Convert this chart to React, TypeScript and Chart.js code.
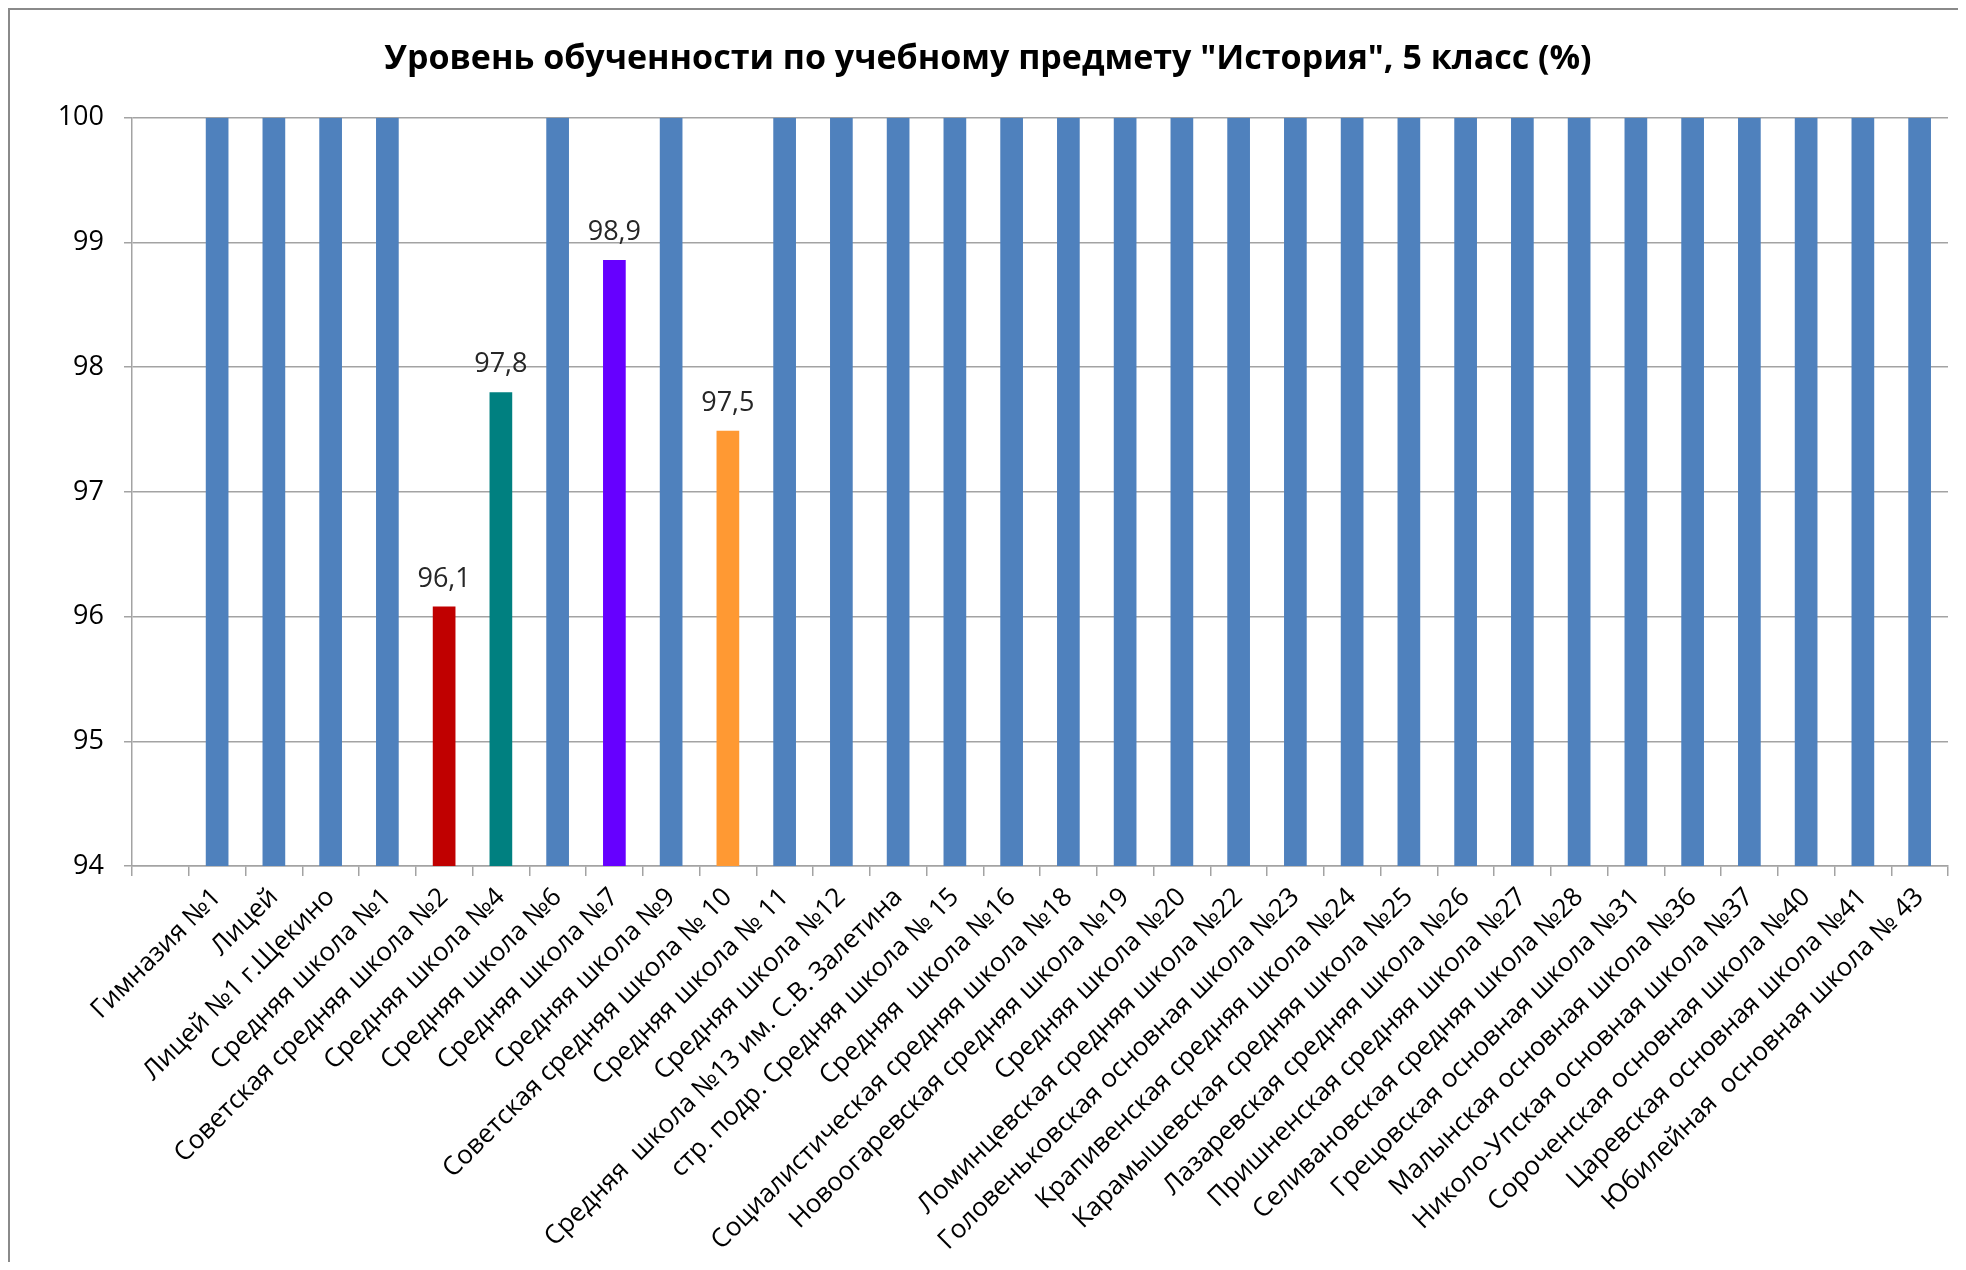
import React, { useEffect, useRef } from "react";
import { Chart, registerables } from "chart.js";

Chart.register(...registerables);

const TITLE = 'Уровень обученности по учебному предмету "История", 5 класс (%)';

const categories: string[] = [
  "",
  "Гимназия №1",
  "Лицей",
  "Лицей №1 г.Щекино",
  "Средняя школа №1",
  "Советская средняя школа №2",
  "Средняя школа №4",
  "Средняя школа №6",
  "Средняя школа №7",
  "Средняя школа №9",
  "Советская средняя школа № 10",
  "Средняя школа № 11",
  "Средняя школа №12",
  "Средняя  школа №13 им. С.В. Залетина",
  "стр. подр. Средняя школа № 15",
  "Средняя  школа №16",
  "Социалистическая средняя школа №18",
  "Новоогаревская средняя школа №19",
  "Средняя школа №20",
  "Ломинцевская средняя школа №22",
  "Головеньковская основная школа №23",
  "Крапивенская средняя школа №24",
  "Карамышевская средняя школа №25",
  "Лазаревская средняя школа №26",
  "Пришненская средняя школа №27",
  "Селивановская средняя школа №28",
  "Грецовская основная школа №31",
  "Малынская основная школа №36",
  "Николо-Упская основная школа №37",
  "Сороченская основная школа №40",
  "Царевская основная школа №41",
  "Юбилейная  основная школа № 43",
];

const values: (number | null)[] = [
  null, 100, 100, 100, 100, 96.08, 97.8, 100, 98.86, 100,
  97.49, 100, 100, 100, 100, 100, 100, 100, 100, 100,
  100, 100, 100, 100, 100, 100, 100, 100, 100, 100,
  100, 100,
];

const Y_MIN = 94;
const Y_MAX = 100;
const Y_STEP = 1;

const BLUE = "#4F81BD";
const highlightColors: Record<string, string> = {
  "Советская средняя школа №2": "#C00000",
  "Средняя школа №4": "#008080",
  "Средняя школа №7": "#6600FF",
  "Советская средняя школа № 10": "#FF9933",
};

const FONT = '"Open Sans", "Noto Sans", sans-serif';
const GRID = "#a3a3a3";

const valueLabels = {
  id: "valueLabels",
  afterDatasetsDraw(chart: any) {
    const ctx = chart.ctx;
    const meta = chart.getDatasetMeta(0);
    ctx.save();
    ctx.font = `27px ${FONT}`;
    ctx.fillStyle = "#262626";
    ctx.textAlign = "center";
    ctx.textBaseline = "alphabetic";
    meta.data.forEach((el: any, i: number) => {
      const v = values[i];
      if (v == null || v >= 100) return;
      ctx.fillText(v.toFixed(1).replace(".", ","), el.x, el.y - 20);
    });
    ctx.restore();
  },
};

export default function App() {
  const canvasRef = useRef<HTMLCanvasElement | null>(null);

  useEffect(() => {
    if (!canvasRef.current) return;
    const chart = new Chart(canvasRef.current, {
      type: "bar",
      data: {
        labels: categories,
        datasets: [
          {
            data: values as any,
            backgroundColor: categories.map((c) => highlightColors[c] ?? BLUE),
            borderWidth: 0,
            categoryPercentage: 0.4,
            barPercentage: 1,
          },
        ],
      },
      options: {
        animation: false,
        responsive: true,
        maintainAspectRatio: false,
        layout: { padding: { left: 18, right: 10, top: 0, bottom: 0 } },
        plugins: {
          legend: { display: false },
          tooltip: { enabled: false },
          title: {
            display: true,
            text: TITLE,
            color: "#000",
            font: { family: FONT, size: 34, weight: "bold" },
            padding: { top: 29, bottom: 38 },
          },
        },
        scales: {
          x: {
            afterFit: (scale: any) => {
              scale.height = 396;
            },
            grid: {
              offset: true,
              drawOnChartArea: false,
              drawTicks: true,
              tickLength: 10,
              color: GRID,
              lineWidth: 1.5,
            },
            border: { color: GRID, width: 1.5 },
            ticks: {
              autoSkip: false,
              minRotation: 45,
              maxRotation: 45,
              padding: 6,
              color: "#000",
              font: { family: FONT, size: 26 },
            },
          },
          y: {
            min: Y_MIN,
            max: Y_MAX,
            afterFit: (scale: any) => {
              scale.width = 104;
            },
            grid: {
              color: GRID,
              lineWidth: 1.5,
              tickLength: 8,
            },
            border: { color: GRID, width: 1.5 },
            ticks: {
              stepSize: Y_STEP,
              padding: 20,
              color: "#000",
              font: { family: FONT, size: 27 },
            },
          },
        },
      },
      plugins: [valueLabels],
    });
    return () => chart.destroy();
  }, []);

  return (
    <div
      style={{
        width: 1950,
        height: 1254,
        boxSizing: "border-box",
        borderLeft: "2px solid #8a8a8a",
        borderTop: "2px solid #8a8a8a",
        background: "#fff",
      }}
    >
      <div style={{ position: "relative", width: 1948, height: 1252 }}>
        <canvas ref={canvasRef} />
      </div>
    </div>
  );
}
